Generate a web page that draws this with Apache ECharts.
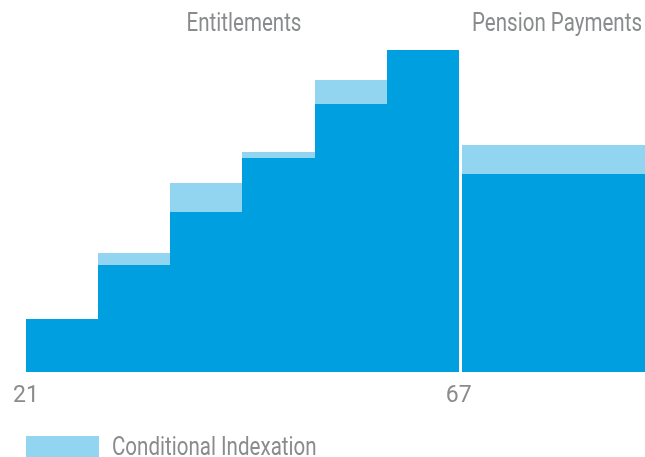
<!DOCTYPE html>
<html>
<head>
<meta charset="utf-8">
<script src="https://cdn.jsdelivr.net/npm/echarts@6/dist/echarts.min.js"></script>
<style>
  html, body { margin: 0; padding: 0; background: #ffffff; }
  #chart { width: 645px; height: 457px; }
</style>
</head>
<body>
<div id="chart"></div>
<script>
// Entitlement steps (age ranges) and values (share of final entitlement, %)
const stepStart = [21, 28.67, 36.33, 44, 51.67, 59.33];
const stepEnd = [28.67, 36.33, 44, 51.67, 59.33, 67];
const entitlements = [16.5, 33.2, 49.8, 66.5, 83.2, 100];
const entitlementIndexation = [0, 3.7, 8.8, 1.8, 7.5, 0];

// Pension payment block
const pensionStart = [67.4];
const pensionEnd = [86.8];
const pensionPayments = [61.5];
const pensionIndexation = [9.0];

// Axis tick labels and texts
const xTickValues = [21, 67];
const groupTitles = ['Entitlements', 'Pension Payments'];
const legendLabel = 'Conditional Indexation';

const FONT = "Roboto, 'Liberation Sans', sans-serif";
const DARK = '#009fdf';
const LIGHT = '#92d5f0';
const TEXT = '#8a8b8d';
const SQUEEZE = 0.79;

const starts = stepStart.concat(pensionStart);
const ends = stepEnd.concat(pensionEnd);
const bases = entitlements.concat(pensionPayments);
const inds = entitlementIndexation.concat(pensionIndexation);

const baseData = starts.map((s, i) => [s, ends[i], 0, bases[i]]);
const indData = starts.map((s, i) => [s, ends[i], bases[i], bases[i] + inds[i]]);

function renderBlock(params, api) {
  const p0 = api.coord([api.value(0), api.value(2)]);
  const p1 = api.coord([api.value(1), api.value(3)]);
  const x0 = Math.round(p0[0]), x1 = Math.round(p1[0]);
  const yb = Math.round(p0[1]), yt = Math.round(p1[1]);
  if (yb - yt <= 0) return null;
  return {
    type: 'rect',
    shape: { x: x0, y: yt, width: x1 - x0, height: yb - yt },
    style: api.style()
  };
}

const chart = echarts.init(document.getElementById('chart'), null, { renderer: 'canvas' });
chart.setOption({
  animation: false,
  grid: { left: 26, right: 0, top: 50, bottom: 85 },
  xAxis: {
    type: 'value',
    min: 21,
    max: 86.8,
    axisLine: { show: false },
    axisTick: { show: false },
    splitLine: { show: false },
    axisLabel: {
      customValues: xTickValues,
      color: TEXT,
      fontFamily: FONT,
      fontSize: 23,
      margin: 13,
      formatter: v => String(v)
    }
  },
  yAxis: { type: 'value', min: 0, max: 100, show: false },
  graphic: [
    { type: 'text', x: 244, y: 11, scaleX: SQUEEZE,
      style: { text: groupTitles[0], fill: TEXT, font: '26px ' + FONT, align: 'center', verticalAlign: 'top' } },
    { type: 'text', x: 557, y: 11, scaleX: SQUEEZE,
      style: { text: groupTitles[1], fill: TEXT, font: '26px ' + FONT, align: 'center', verticalAlign: 'top' } },
    { type: 'rect', shape: { x: 26, y: 436, width: 73, height: 22 }, style: { fill: LIGHT } },
    { type: 'text', x: 112, y: 435, scaleX: SQUEEZE,
      style: { text: legendLabel, fill: TEXT, font: '26px ' + FONT, align: 'left', verticalAlign: 'top' } }
  ],
  series: [
    {
      name: 'Entitlements',
      type: 'custom',
      renderItem: renderBlock,
      encode: { x: [0, 1], y: [2, 3] },
      itemStyle: { color: DARK },
      data: baseData
    },
    {
      name: legendLabel,
      type: 'custom',
      renderItem: renderBlock,
      encode: { x: [0, 1], y: [2, 3] },
      itemStyle: { color: LIGHT },
      data: indData
    }
  ]
});
</script>
</body>
</html>
